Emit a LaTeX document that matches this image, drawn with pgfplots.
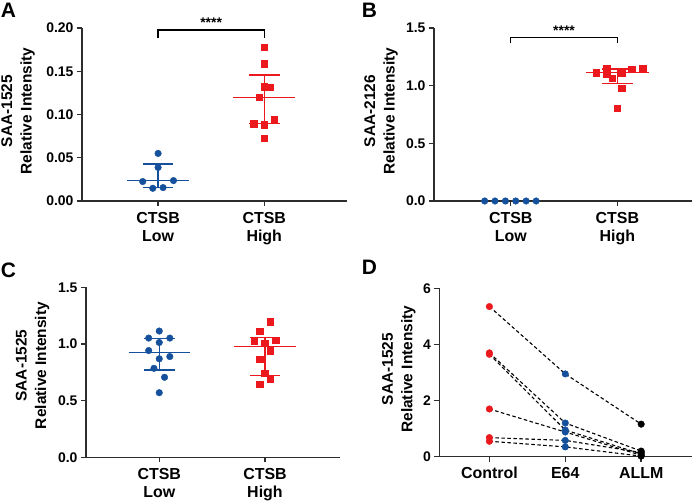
\documentclass[border=0pt]{standalone}
\usepackage{fontspec}
\setmainfont{Liberation Sans}
\usepackage{pgfplots}
\pgfplotsset{compat=1.18}
\definecolor{pblue}{RGB}{20,80,155}
\definecolor{pred}{RGB}{235,25,30}
\definecolor{axc}{RGB}{45,45,45}
\pgfplotsset{
 prism/.style={
   scale only axis,
   axis x line=bottom, axis y line=left,
   axis line style={-, line width=1.4bp, color=axc},
   every tick/.style={line width=1.4bp, color=axc},
   tick align=outside, major tick length=5bp,
   xtick={0,1},
   /pgf/number format/assume math mode=true,
   yticklabel style={font=\bfseries\fontsize{14}{16}\selectfont},
   xticklabel style={align=center, yshift=-3bp, font=\bfseries\fontsize{16}{18}\selectfont},
   ylabel style={align=center, font=\bfseries\fontsize{15.5}{19.5}\selectfont},
   clip=false,
 },
 bar/.style={line width=1.3bp, no marks},
}
\begin{document}
\begin{tikzpicture}
\useasboundingbox (0,0) rectangle (693bp,502bp);
% ---------------- A
\begin{axis}[prism, at={(82bp,301bp)}, anchor=south west, width=265bp, height=173bp,
  xmin=-0.717, xmax=1.78, ymin=0, ymax=0.2, ytick={0,0.05,0.1,0.15,0.2},
  yticklabel style={/pgf/number format/.cd, fixed, fixed zerofill, precision=2},
  xticklabels={{CTSB\\Low},{CTSB\\High}},
  ylabel={SAA-1525\\Relative Intensity},
  ylabel style={at={(axis description cs:-0.2415,0.52)}, anchor=center}]
\addplot[only marks, mark=*, mark size=3.3bp, color=pblue] coordinates {
 (0,0.055) (0,0.0388) (-0.145,0.0225) (0.145,0.0236) (-0.05,0.0147) (0.047,0.0155)};
\addplot[bar, pblue] coordinates {(-0.29,0.0233) (0.29,0.0233)};
\addplot[bar, pblue] coordinates {(-0.145,0.0426) (0.145,0.0426)};
\addplot[bar, pblue] coordinates {(-0.145,0.0155) (0.145,0.0155)};
\addplot[bar, pblue] coordinates {(0,0.0155) (0,0.0426)};
\addplot[only marks, mark=square*, mark size=3.3bp, color=pred] coordinates {
 (1,0.178) (1,0.159) (1,0.132) (1.05,0.1314) (0.953,0.1198) (1.094,0.0946) (0.903,0.0895) (1,0.0884) (1,0.0725)};
\addplot[bar, pred] coordinates {(0.71,0.1198) (1.29,0.1198)};
\addplot[bar, pred] coordinates {(0.855,0.1457) (1.145,0.1457)};
\addplot[bar, pred] coordinates {(0.855,0.0895) (1.145,0.0895)};
\addplot[bar, pred] coordinates {(1,0.0895) (1,0.1457)};
\addplot[line width=1.2bp, black, no marks] coordinates {(0,0.189) (0,0.1977) (1,0.1977) (1,0.189)};
\node[anchor=base, inner sep=0pt, font=\bfseries\fontsize{14}{16}\selectfont] at (axis cs:0.5,0.1977) {\raisebox{2bp}{****}};
\end{axis}
% ---------------- B
\begin{axis}[prism, at={(434bp,301bp)}, anchor=south west, width=258bp, height=173bp,
  xmin=-0.72, xmax=1.70, ymin=0, ymax=1.5, ytick={0,0.5,1,1.5},
  yticklabel style={/pgf/number format/.cd, fixed, fixed zerofill, precision=1},
  xticklabels={{CTSB\\Low},{CTSB\\High}},
  ylabel={SAA-2126\\Relative Intensity},
  ylabel style={at={(axis description cs:-0.205,0.52)}, anchor=center}]
\addplot[only marks, mark=*, mark size=3.3bp, color=pblue] coordinates {
 (-0.245,0) (-0.148,0) (-0.05,0) (0.047,0) (0.144,0) (0.238,0)};
\addplot[only marks, mark=square*, mark size=3.3bp, color=pred] coordinates {
 (0.8,1.114) (0.9,1.152) (0.9,1.102) (0.953,1.065) (1.04,1.114) (1.135,1.143) (1.235,1.152) (1.04,0.978) (1,0.804)};
\addplot[bar, pred] coordinates {(0.705,1.112) (1.295,1.112)};
\addplot[bar, pred] coordinates {(0.855,1.145) (1.145,1.145)};
\addplot[bar, pred] coordinates {(0.855,1.020) (1.145,1.020)};
\addplot[bar, pred] coordinates {(1,1.020) (1,1.145)};
\addplot[line width=1.2bp, black, no marks] coordinates {(0,1.367) (0,1.416) (1,1.416) (1,1.367)};
\node[anchor=base, inner sep=0pt, font=\bfseries\fontsize{14}{16}\selectfont] at (axis cs:0.5,1.416) {\raisebox{2bp}{****}};
\end{axis}
% ---------------- C
\begin{axis}[prism, at={(86bp,44.7bp)}, anchor=south west, width=254bp, height=170bp,
  xmin=-0.693, xmax=1.71, ymin=0, ymax=1.5, ytick={0,0.5,1,1.5},
  yticklabel style={/pgf/number format/.cd, fixed, fixed zerofill, precision=1},
  xticklabels={{CTSB\\Low},{CTSB\\High}},
  ylabel={SAA-1525\\Relative Intensity},
  ylabel style={at={(axis description cs:-0.21,0.54)}, anchor=center}]
\addplot[only marks, mark=*, mark size=3.3bp, color=pblue] coordinates {
 (0,1.114) (-0.1,1.052) (0.1,1.052) (0,1.013) (-0.1,0.942) (0,0.869) (0.1,0.889) (-0.05,0.785) (0.05,0.706) (0,0.570)};
\addplot[bar, pblue] coordinates {(-0.29,0.923) (0.29,0.923)};
\addplot[bar, pblue] coordinates {(-0.145,1.05) (0.145,1.05)};
\addplot[bar, pblue] coordinates {(-0.145,0.770) (0.145,0.770)};
\addplot[bar, pblue] coordinates {(0,0.770) (0,1.05)};
\addplot[only marks, mark=square*, mark size=3.3bp, color=pred] coordinates {
 (1.05,1.196) (0.95,1.114) (0.9,1.026) (1.1,1.035) (1,1.006) (1.05,0.941) (0.95,0.865) (1,0.741) (1.05,0.688) (0.95,0.644)};
\addplot[bar, pred] coordinates {(0.71,0.976) (1.29,0.976)};
\addplot[bar, pred] coordinates {(0.855,1.059) (1.145,1.059)};
\addplot[bar, pred] coordinates {(0.855,0.723) (1.145,0.723)};
\addplot[bar, pred] coordinates {(1,0.723) (1,1.059)};
\end{axis}
% ---------------- D
\begin{axis}[prism, at={(439.3bp,45.3bp)}, anchor=south west, width=252.7bp, height=168.4bp,
  xmin=-0.66, xmax=2.67, ymin=0, ymax=6, ytick={0,2,4,6}, xtick={0,1,2},
  xticklabels={Control,E64,ALLM},
  xticklabel style={yshift=1bp},
  ylabel={SAA-1525\\Relative Intensity},
  ylabel style={at={(axis description cs:-0.16,0.52)}, anchor=center}]
\pgfplotsset{dl/.style={black, line width=1.1bp, dash pattern=on 3.5bp off 2.5bp, no marks}}
\addplot[dl] coordinates {(0,5.35) (1,2.95) (2,1.16)};
\addplot[dl] coordinates {(0,3.70) (1,1.20) (2,0.20)};
\addplot[dl] coordinates {(0,3.65) (1,0.95) (2,0.10)};
\addplot[dl] coordinates {(0,1.70) (1,0.88) (2,0.05)};
\addplot[dl] coordinates {(0,0.68) (1,0.58) (2,0.15)};
\addplot[dl] coordinates {(0,0.55) (1,0.35) (2,0.02)};
\addplot[only marks, mark=*, mark size=3.3bp, color=pred] coordinates {(0,5.35) (0,3.70) (0,3.65) (0,1.70) (0,0.68) (0,0.55)};
\addplot[only marks, mark=*, mark size=3.3bp, color=pblue] coordinates {(1,2.95) (1,1.20) (1,0.95) (1,0.88) (1,0.58) (1,0.35)};
\addplot[only marks, mark=*, mark size=3.3bp, color=black] coordinates {(2,1.16) (2,0.20) (2,0.10) (2,0.05) (2,0.15) (2,0.02)};
\end{axis}
% panel letters
\node[font=\bfseries\fontsize{21}{24}\selectfont] at (8.5bp,491.5bp) {A};
\node[font=\bfseries\fontsize{21}{24}\selectfont] at (369.5bp,492bp) {B};
\node[font=\bfseries\fontsize{21}{24}\selectfont] at (8.5bp,232bp) {C};
\node[font=\bfseries\fontsize{21}{24}\selectfont] at (369.5bp,234.5bp) {D};
\end{tikzpicture}
\end{document}
